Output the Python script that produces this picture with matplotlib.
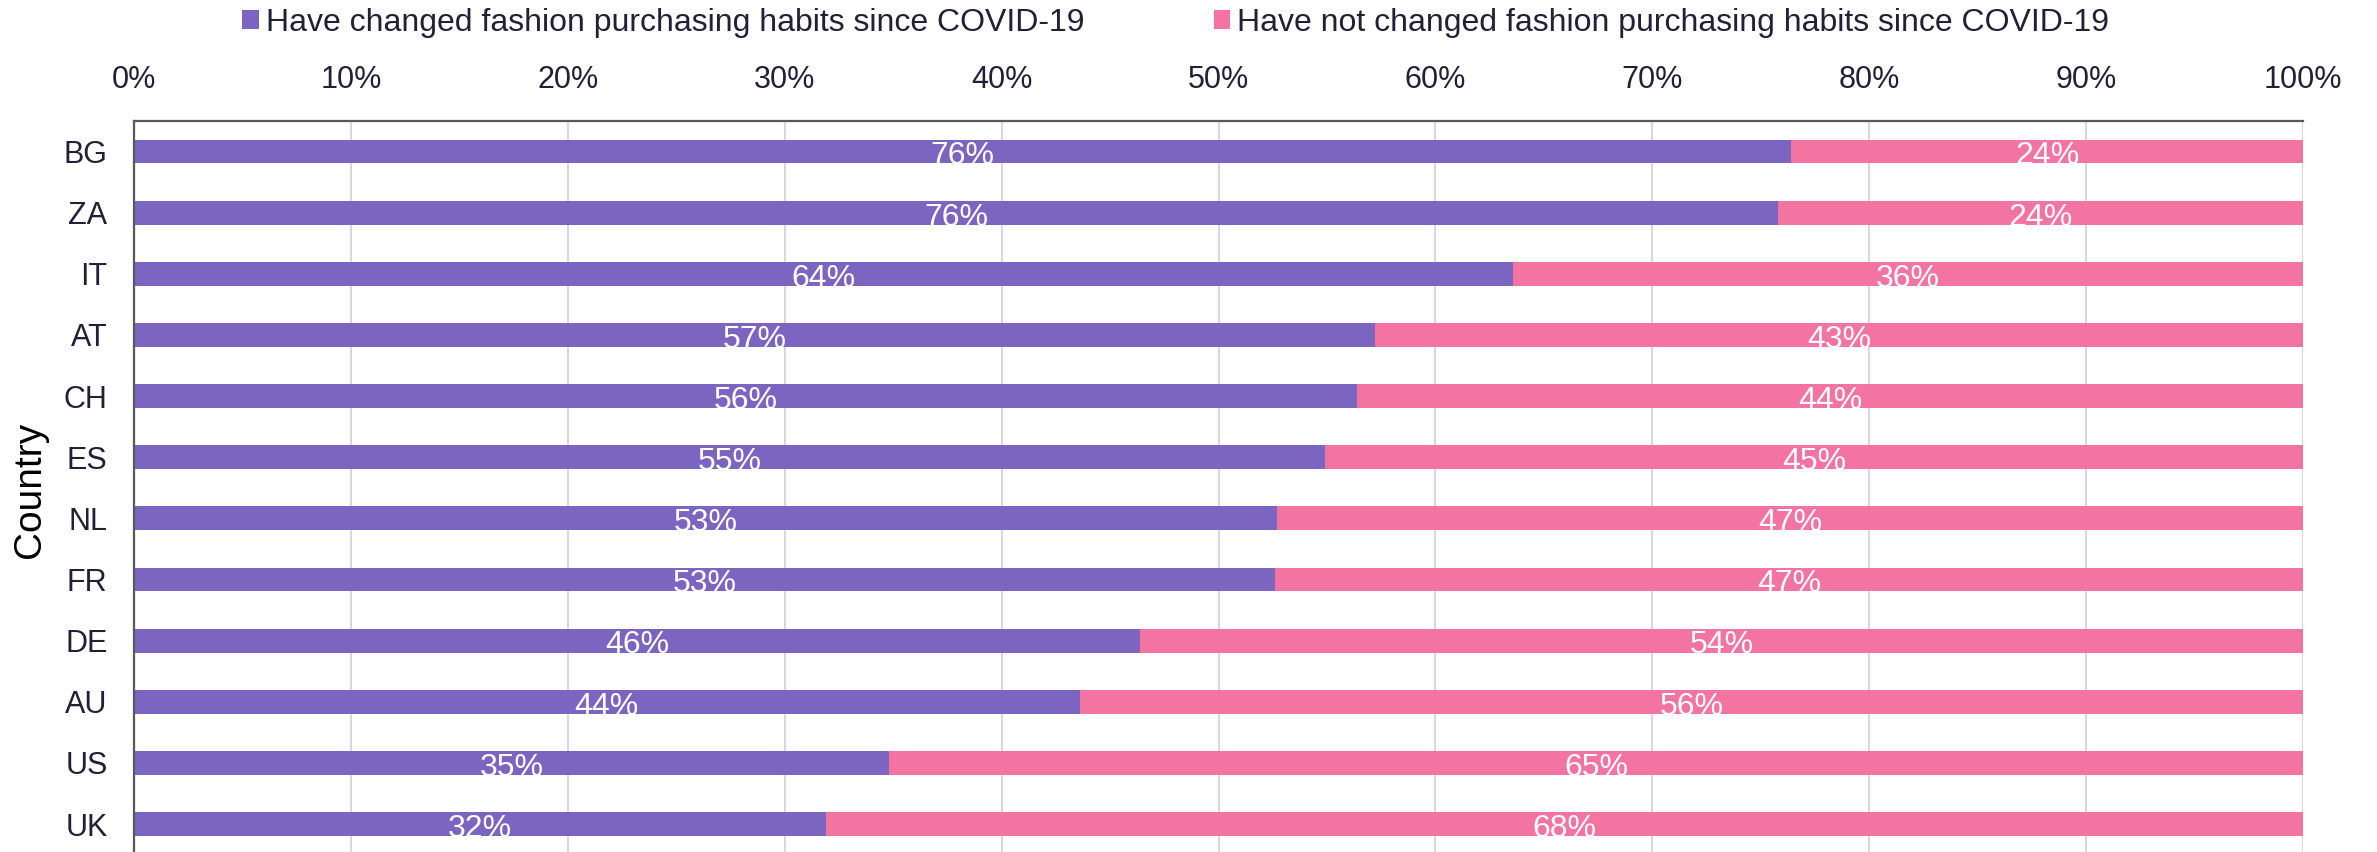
import matplotlib
matplotlib.use("Agg")
import matplotlib.pyplot as plt
from matplotlib.patches import Patch

plt.rcParams['font.family'] = ['Liberation Sans', 'DejaVu Sans']

countries = ["BG", "ZA", "IT", "AT", "CH", "ES", "NL", "FR", "DE", "AU", "US", "UK"]
changed = [76.4, 75.8, 63.6, 57.2, 56.4, 54.9, 52.7, 52.6, 46.4, 43.6, 34.8, 31.9]
not_changed = [23.6, 24.2, 36.4, 42.8, 43.6, 45.1, 47.3, 47.4, 53.6, 56.4, 65.2, 68.1]
series_names = ["Have changed fashion purchasing habits since COVID-19",
                "Have not changed fashion purchasing habits since COVID-19"]
xticks = [0, 10, 20, 30, 40, 50, 60, 70, 80, 90, 100]
xticklabels = [f"{t}%" for t in xticks]
y_label = "Country"

PURPLE = "#7B65C1"
PINK = "#F373A1"
TXT = "#231F36"

W, H = 2377, 852
fig = plt.figure(figsize=(W / 100, H / 100), dpi=100)
left, right, top = 134, 2303, 121
ax = fig.add_axes([left / W, 0, (right - left) / W, (H - top) / H])

y = list(range(len(countries)))
bh = 0.39
b1 = ax.barh(y, changed, height=bh, color=PURPLE, zorder=3)
b2 = ax.barh(y, not_changed, left=changed, height=bh, color=PINK, zorder=3)

ax.set_xlim(0, 100)
ax.set_ylim(11.457, -0.5)
ax.set_yticks(y)
ax.set_yticklabels(countries)
ax.set_xticks(xticks)
ax.set_xticklabels(xticklabels)
ax.xaxis.tick_top()
ax.tick_params(axis='both', length=0, labelsize=22, colors=TXT, pad=19)
ax.grid(axis='x', color='#D9D9D9', linewidth=1.5, zorder=0)
ax.set_axisbelow(True)
for s in ['right', 'bottom']:
    ax.spines[s].set_visible(False)
for s in ['top', 'left']:
    ax.spines[s].set_color('#595959')
    ax.spines[s].set_linewidth(1.6)
    ax.spines[s].set_zorder(5)

fig.text(30 / W, 1 - 489.5 / H, y_label, rotation=90, ha='center', va='center',
         fontsize=28, color='black')

for bars, vals in [(b1, changed), (b2, not_changed)]:
    for rect, v in zip(bars, vals):
        cx = rect.get_x() + rect.get_width() / 2
        cy = rect.get_y() + rect.get_height()
        t = ax.text(cx, cy + 0.015, f"{round(v)}%", ha='center', va='baseline',
                    fontsize=23, color='white', zorder=4)
        t.set_clip_path(rect)

handles = [Patch(facecolor=PURPLE), Patch(facecolor=PINK)]
fig.legend(handles, series_names, loc='center left',
           bbox_to_anchor=(242 / W, 1 - 23 / H), ncol=2, frameon=False,
           fontsize=23, handlelength=0.53, handleheight=0.53, handletextpad=0.22,
           columnspacing=4.04, borderpad=0, borderaxespad=0, labelcolor=TXT)

fig.savefig("out.png", dpi=100)
